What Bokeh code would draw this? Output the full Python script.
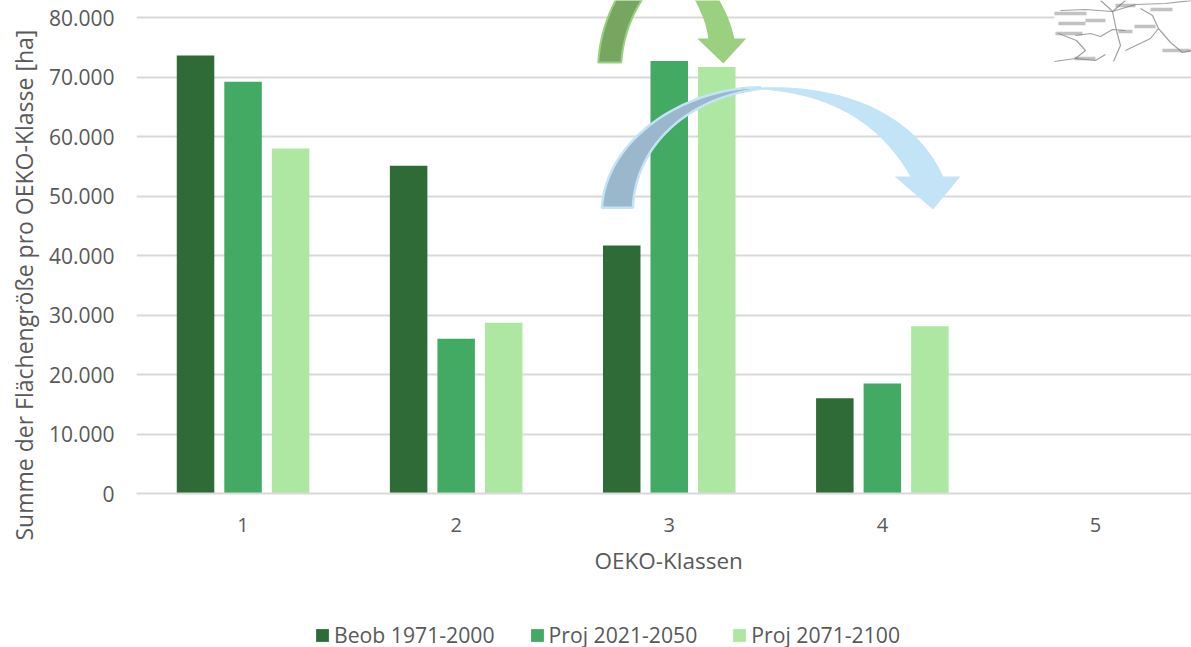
import numpy as np
from bokeh.plotting import figure
from bokeh.layouts import column
from bokeh.models import Range1d, FixedTicker, Legend, LegendItem, ColumnDataSource, Title
from bokeh.embed import file_html
from bokeh.resources import INLINE

classes = [1, 2, 3, 4, 5]
beob_1971_2000 = [73600, 55100, 41700, 16000, 0]
proj_2021_2050 = [69200, 26000, 72700, 18500, 0]
proj_2071_2100 = [58000, 28700, 71700, 28100, 0]
series_names = ["Beob 1971-2000", "Proj 2021-2050", "Proj 2071-2100"]
series_colors = ["#2e6b37", "#43aa63", "#aee7a2"]
y_ticks = [0, 10000, 20000, 30000, 40000, 50000, 60000, 70000, 80000]
y_labels = ["0", "10.000", "20.000", "30.000", "40.000", "50.000", "60.000", "70.000", "80.000"]

FONT = "Open Sans"
TXT = "#595959"
W, H = 1191, 647
TOP_H = 600
LEFT, BASE = 136.5, 493.0
PX_X, PX_Y = 213.0, 5.95 / 1000


def dx(px):
    return 0.5 + (np.asarray(px, float) - LEFT) / PX_X


def dy(py):
    return (BASE - np.asarray(py, float)) / PX_Y


p = figure(width=W, height=TOP_H, output_backend="svg", toolbar_location=None,
           x_range=Range1d(dx(LEFT), dx(W)), y_range=Range1d(0, dy(0)),
           min_border_left=136, min_border_right=0, min_border_top=0,
           min_border_bottom=TOP_H - 493)
p.outline_line_color = None
p.background_fill_color = "white"
p.xgrid.visible = False
p.ygrid.grid_line_color = "#d9d9d9"
p.ygrid.grid_line_width = 2
p.ygrid.ticker = FixedTicker(ticks=y_ticks)

yax = p.yaxis[0]
yax.ticker = FixedTicker(ticks=y_ticks)
yax.major_label_overrides = dict(zip(y_ticks, y_labels))
yax.axis_line_color = None
yax.major_tick_line_color = None
yax.major_tick_out = 0
yax.minor_tick_line_color = None
yax.minor_tick_out = 0
yax.major_label_text_font = FONT
yax.major_label_text_font_size = "21px"
yax.major_label_text_color = TXT
yax.major_label_standoff = 22

# both axis titles sit off-centre against the plot frame, so they are side-panel Titles
p.add_layout(Title(text="Summe der Flächengröße pro OEKO-Klasse [ha]", align="left", offset=-47,
                   standoff=11, text_font=FONT, text_font_size="23px", text_font_style="normal",
                   text_color=TXT), "left")

xax = p.xaxis[0]
xax.ticker = FixedTicker(ticks=classes)
xax.axis_line_color = "#d9d9d9"
xax.axis_line_width = 2
xax.major_tick_line_color = None
xax.major_tick_out = 0
xax.minor_tick_line_color = None
xax.minor_tick_out = 0
xax.major_label_text_font = FONT
xax.major_label_text_font_size = "20px"
xax.major_label_text_color = TXT
xax.major_label_standoff = 24

p.add_layout(Title(text="OEKO-Klassen", align="left", offset=594 - 136, standoff=16,
                   text_font=FONT, text_font_size="22.5px", text_font_style="normal",
                   text_color=TXT), "below")

offsets = [-0.223, 0.0, 0.223]
for vals, name, col, off in zip([beob_1971_2000, proj_2021_2050, proj_2071_2100],
                                series_names, series_colors, offsets):
    src = ColumnDataSource(dict(x=[c + off for c in classes], top=vals))
    p.vbar(x="x", top="top", bottom=0, width=0.176, fill_color=col, line_color=None, source=src)


def bez(p0, c1, c2, p3, n=40):
    t = np.linspace(0, 1, n)[:, None]
    a, b, c, d = map(lambda v: np.array(v, float), (p0, c1, c2, p3))
    return (1-t)**3*a + 3*(1-t)**2*t*b + 3*(1-t)*t**2*c + t**3*d


def patch(pts, fill, line=None, lw=2):
    pts = np.asarray(pts)
    p.patch(dx(pts[:, 0]), dy(pts[:, 1]), fill_color=fill, line_color=line, line_width=lw)


def zb(pt):  # crop coords to page pixels
    return (580 + pt[0] / 3, pt[1] / 3)


# green arrow (runs off the top of the page)
g_back = np.vstack([bez((598, 62), (600, 36), (606, 15), (622, -12)),
                    bez((650, -12), (632, 10), (623, 36), (621, 62))])
patch(g_back, "#76a660", "#97d17f", 2)
g_front = np.vstack([bez((688, -12), (700, 8), (706, 22), (708, 38)),
                     [(697, 38), (723, 63), (746, 38), (734, 38)],
                     bez((734, 38), (731, 24), (726, 10), (712, -12))])
patch(g_front, "#9ad080")

# blue arrow
b_back = np.vstack([bez(zb((65, 622)), zb((75, 430)), zb((290, 265)), zb((540, 260))),
                    bez(zb((540, 265)), zb((330, 290)), zb((165, 430)), zb((158, 622)))])
patch(b_back, "#9bb7cb", "#c3e3f6", 2.5)
b_front = np.vstack([bez(zb((520, 262)), zb((800, 245)), zb((1010, 350)), zb((1088, 528))),
                     [zb((1140, 528)), zb((1058, 627)), zb((943, 528)), zb((990, 528))],
                     bez(zb((990, 528)), zb((900, 370)), zb((750, 275)), zb((520, 266)))])
patch(b_front, "#c3e3f6")

# map fragment in the top right corner
patch([(1054, 0), (W, 0), (W, 62), (1054, 62)], "white")
map_roads = [
    [(1054, 61), (1075, 58), (1085, 50), (1076, 40), (1058, 33)],
    [(1112, 11), (1116, 30), (1120, 45), (1113, 61)],
    [(1112, 11), (1135, 4), (1165, 3), (1191, 0)],
    [(1060, 10), (1085, 9), (1112, 11), (1125, 0)],
    [(1125, 50), (1150, 38), (1158, 28), (1152, 15), (1140, 8)],
    [(1158, 28), (1170, 42), (1182, 52), (1191, 50)],
    [(1075, 35), (1090, 33), (1100, 36), (1112, 29), (1125, 30)],
    [(1100, 0), (1108, 7), (1112, 11)],
    [(1075, 58), (1095, 60), (1105, 54)],
]
map_smudges = [
    [(1054, 13), (1086, 13)], [(1058, 23), (1085, 23)], [(1085, 20), (1105, 20)],
    [(1055, 33), (1082, 33)], [(1118, 31), (1132, 31)], [(1134, 26), (1155, 26)],
    [(1115, 5), (1135, 5)], [(1150, 9), (1172, 9)], [(1162, 50), (1190, 50)],
    [(1074, 58), (1095, 58)],
]
for ln in map_roads:
    a = np.array(ln)
    p.line(dx(a[:, 0]), dy(a[:, 1]), line_color="#8a8a8a", line_width=1.2, line_alpha=0.8)
for ln in map_smudges:
    a = np.array(ln)
    p.line(dx(a[:, 0]), dy(a[:, 1]), line_color="#777777", line_width=3.5, line_alpha=0.45)

# legend strip below the chart
LEG_H = 50
p2 = figure(width=W, height=LEG_H, output_backend="svg", toolbar_location=None,
            x_range=Range1d(0, W), y_range=Range1d(0, LEG_H),
            min_border=0, min_border_left=136, outline_line_color=None)
p2.axis.visible = False
p2.grid.visible = False
items = []
for name, col in zip(series_names, series_colors):
    r = p2.vbar(x=[-100], top=[0], bottom=0, width=1, fill_color=col, line_color=None)
    items.append(LegendItem(label=name, renderers=[r]))
legend = Legend(items=items, orientation="horizontal", location=(314 - 136, 1),
                glyph_width=16, glyph_height=16, label_standoff=4, spacing=34,
                padding=0, margin=0, border_line_color=None, background_fill_alpha=0,
                label_text_font=FONT, label_text_font_size="21.2px", label_text_color=TXT,
                label_height=14)
p2.add_layout(legend, "center")

page = column(p, p2, spacing=0)
open("out.html", "w").write(file_html(page, INLINE))
